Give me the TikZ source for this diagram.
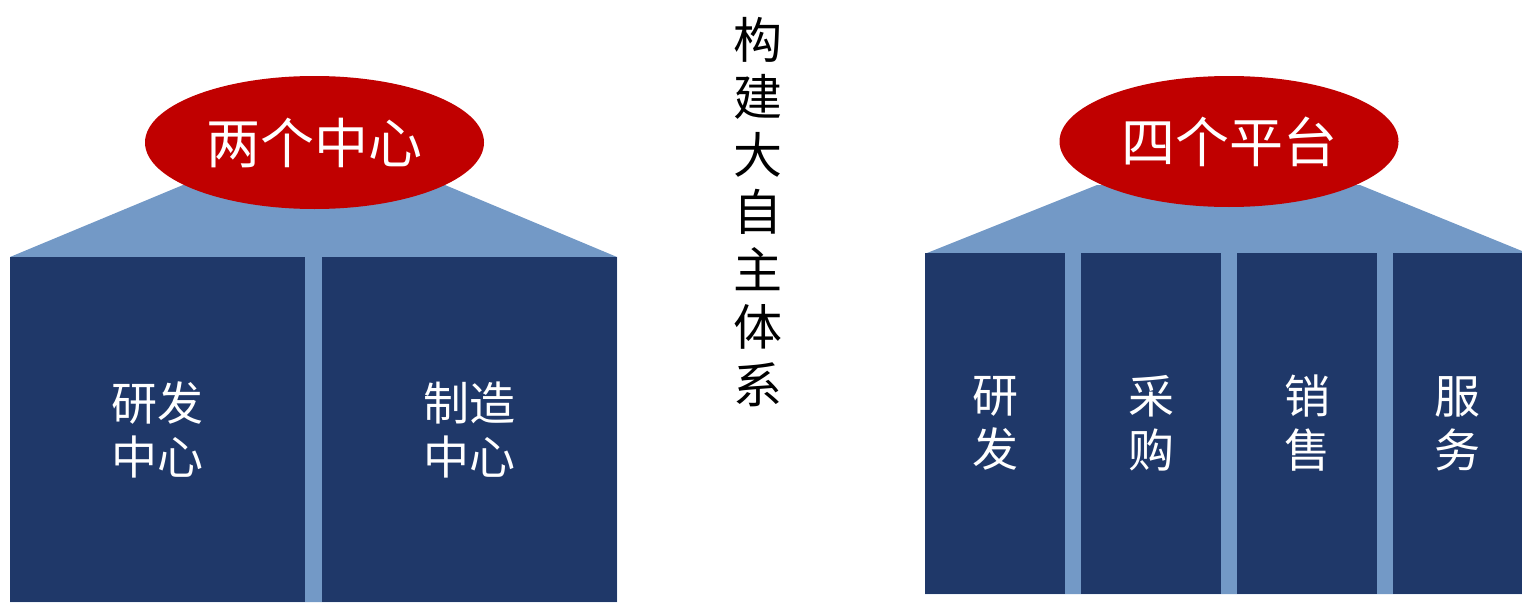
\documentclass[tikz,border=0pt]{standalone}
\usepackage{fontspec}
\newfontfamily\cjk{Noto Sans CJK SC}
\usetikzlibrary{shapes.geometric}
\definecolor{dred}{HTML}{C00000}
\definecolor{navy}{HTML}{1F3869}
\definecolor{lblue}{HTML}{7399C6}
\begin{document}
\begin{tikzpicture}[x=1pt,y=-1pt,
  oval/.style={ellipse, fill=dred, inner sep=0pt, minimum width=339pt, minimum height=133pt,
    text=white, font=\cjk\fontsize{54}{60}\selectfont},
  colbox/.style={fill=navy, inner sep=0pt, text=white, align=center,
    font=\cjk\fontsize{46}{54}\selectfont},
  title/.style={text=black, align=center, inner sep=0pt, font=\cjk\fontsize{49}{57.5}\selectfont}]
\useasboundingbox (0,0) rectangle (1522,602);
% light blue backgrounds
\fill[lblue] (10,257) -- (183,185) -- (445,185) -- (617,257) -- (617,602) -- (10,602) -- cycle;
\fill[lblue] (927,253) -- (1097,185) -- (1360,185) -- (1522,251) -- (1522,594) -- (925,594) -- (925,253) -- cycle;
% left boxes
\node[colbox, minimum width=295pt, minimum height=345pt] (rd) at (157.5,429.5) {研发\\中心};
\node[colbox, minimum width=295pt, minimum height=345pt] (mf) at (469.5,429.5) {制造\\中心};
% right boxes
\node[colbox, minimum width=140pt, minimum height=341pt] (p1) at (995,423.5) {研\\发};
\node[colbox, minimum width=140pt, minimum height=341pt] (p2) at (1151,423.5) {采\\购};
\node[colbox, minimum width=140pt, minimum height=341pt] (p3) at (1307,423.5) {销\\售};
\node[colbox, minimum width=129pt, minimum height=341pt] (p4) at (1457.5,423.5) {服\\务};
% ellipses
\node[oval] (two) at (314.5,142.5) {两个中心};
\node[oval, minimum height=131pt] (four) at (1229,141.5) {四个平台};
% vertical title
\node[title] (t) at (758,212) {构\\建\\大\\自\\主\\体\\系};
\end{tikzpicture}
\end{document}
